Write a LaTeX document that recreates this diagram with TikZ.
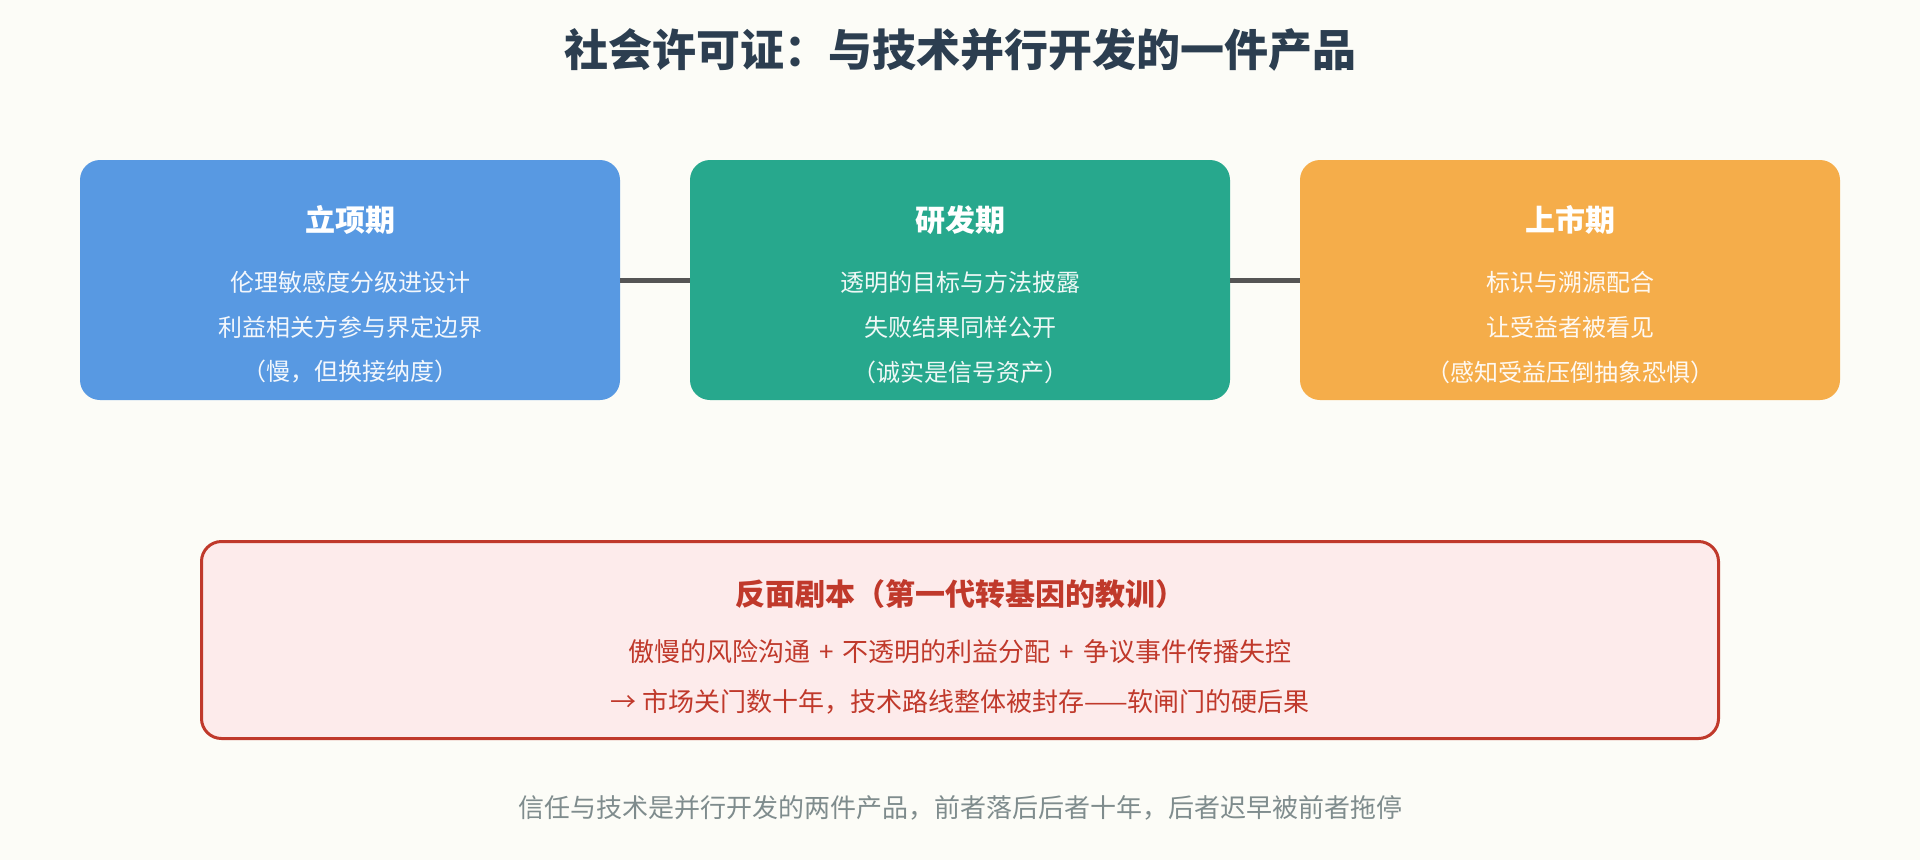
\documentclass[tikz,border=0pt]{standalone}
\usepackage{fontspec}
\setmainfont{Noto Sans CJK SC}
\definecolor{bgcol}{HTML}{FCFCF7}
\definecolor{titlecol}{HTML}{2C3E50}
\definecolor{bluebox}{HTML}{5899E2}
\definecolor{greenbox}{HTML}{27A88D}
\definecolor{orangebox}{HTML}{F5AD4A}
\definecolor{redline}{HTML}{C0392B}
\definecolor{redfill}{HTML}{FDEBEB}
\definecolor{linkcol}{HTML}{555555}
\definecolor{footcol}{HTML}{7F8C8D}
\newcommand{\plussep}{\hspace{9pt}+\hspace{9pt}}
\tikzset{
  phase/.style={minimum width=540pt, minimum height=240pt, rounded corners=20pt, inner sep=0pt, draw=none},
  phasetitle/.style={text=white, font=\fontsize{30}{36}\selectfont\bfseries, inner sep=0pt},
  phaseline/.style={text=white, text opacity=0.93, font=\fontsize{24}{30}\selectfont, inner sep=0pt},
  link/.style={draw=linkcol, line width=5pt},
  warnbox/.style={minimum width=1517pt, minimum height=197pt, rounded corners=20pt, draw=redline, line width=3pt, fill=redfill, inner sep=0pt},
  warntitle/.style={text=redline, font=\fontsize{30}{36}\selectfont\bfseries, inner sep=0pt},
  warnline/.style={text=redline, font=\fontsize{26}{32}\selectfont, inner sep=0pt},
}
\begin{document}
\begin{tikzpicture}[x=1pt,y=-1pt]
\fill[bgcol] (0,0) rectangle (1920,860);
\useasboundingbox (0,0) rectangle (1920,860);

\node[text=titlecol, font=\fontsize{44}{52}\selectfont\bfseries, inner sep=0pt] (title) at (960,50) {社会许可证：与技术并行开发的一件产品};

\node[phase, fill=bluebox] (p1) at (350,280) {};
\node[phase, fill=greenbox] (p2) at (960,280) {};
\node[phase, fill=orangebox] (p3) at (1570,280) {};

\draw[link] (p1.east) -- (p2.west);
\draw[link] (p2.east) -- (p3.west);

\node[phasetitle] (p1t) at (350,220) {立项期};
\node[phaseline] (p1a) at (350,282) {伦理敏感度分级进设计};
\node[phaseline] (p1b) at (350,327) {利益相关方参与界定边界};
\node[phaseline] (p1c) at (350,372) {（慢，但换接纳度）};

\node[phasetitle] (p2t) at (960,220) {研发期};
\node[phaseline] (p2a) at (960,282) {透明的目标与方法披露};
\node[phaseline] (p2b) at (960,327) {失败结果同样公开};
\node[phaseline] (p2c) at (960,372) {（诚实是信号资产）};

\node[phasetitle] (p3t) at (1570,220) {上市期};
\node[phaseline] (p3a) at (1570,282) {标识与溯源配合};
\node[phaseline] (p3b) at (1570,327) {让受益者被看见};
\node[phaseline] (p3c) at (1570,372) {（感知受益压倒抽象恐惧）};

\node[warnbox] (w) at (960,640) {};
\node[warntitle] (wt) at (960,594) {反面剧本（第一代转基因的教训）};
\node[warnline] (wa) at (960,652) {傲慢的风险沟通\plussep 不透明的利益分配\plussep 争议事件传播失控};
\node[warnline] (wb) at (960,702) {→\hspace{6pt}市场关门数十年，技术路线整体被封存——软闸门的硬后果};

\node[text=footcol, font=\fontsize{26}{32}\selectfont, inner sep=0pt] (foot) at (960,808) {信任与技术是并行开发的两件产品，前者落后后者十年，后者迟早被前者拖停};
\end{tikzpicture}
\end{document}
